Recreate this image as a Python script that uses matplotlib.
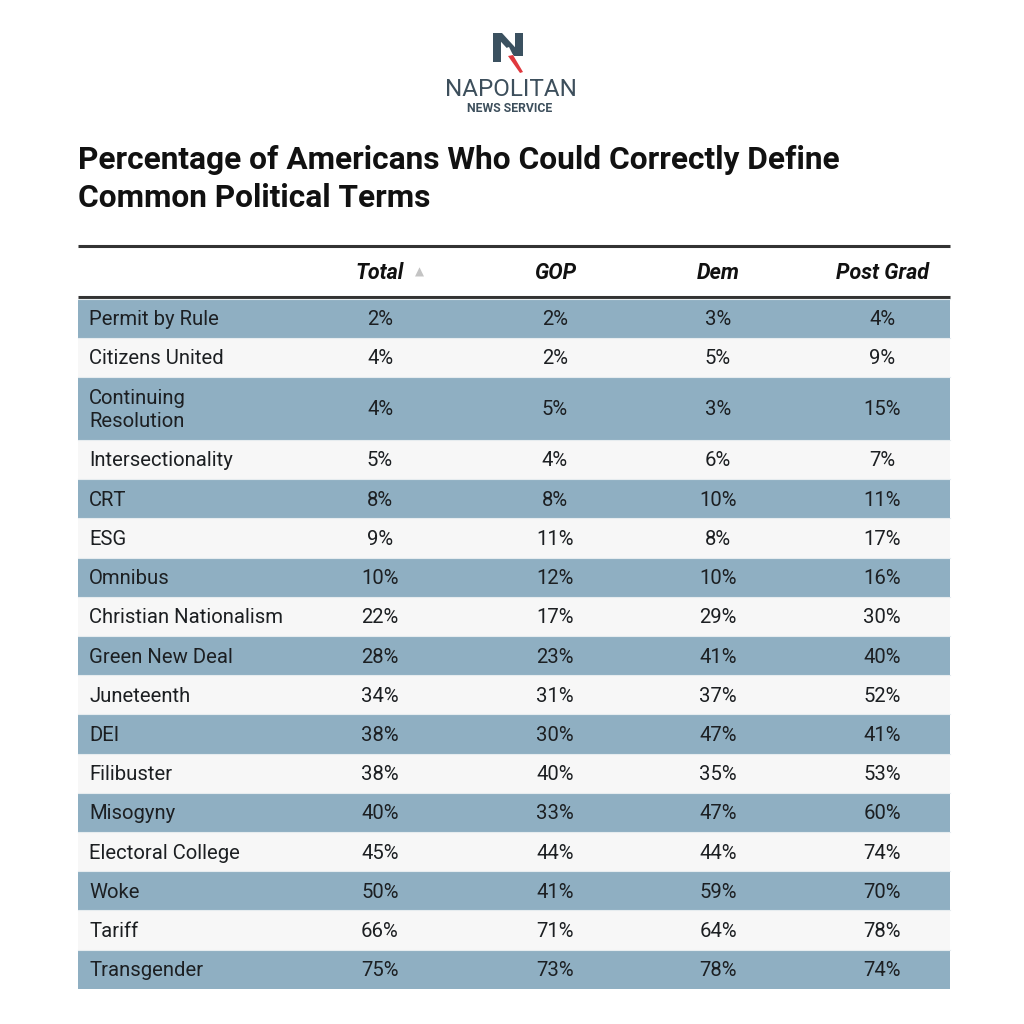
import matplotlib
matplotlib.use("Agg")
import matplotlib.pyplot as plt
from matplotlib.patches import Rectangle, Polygon

terms = ["Permit by Rule", "Citizens United", "Continuing\nResolution", "Intersectionality",
         "CRT", "ESG", "Omnibus", "Christian Nationalism", "Green New Deal", "Juneteenth",
         "DEI", "Filibuster", "Misogyny", "Electoral College", "Woke", "Tariff", "Transgender"]
total = [2, 4, 4, 5, 8, 9, 10, 22, 28, 34, 38, 38, 40, 45, 50, 66, 75]
gop = [2, 2, 5, 4, 8, 11, 12, 17, 23, 31, 30, 40, 33, 44, 41, 71, 73]
dem = [3, 5, 3, 6, 10, 8, 10, 29, 41, 37, 47, 35, 47, 44, 59, 64, 78]
postgrad = [4, 9, 15, 7, 11, 17, 16, 30, 40, 52, 41, 53, 60, 74, 70, 78, 74]
columns = ["Total", "GOP", "Dem", "Post Grad"]

title = "Percentage of Americans Who Could Correctly Define\nCommon Political Terms"

plt.rcParams['font.family'] = ['Roboto', 'DejaVu Sans']

fig = plt.figure(figsize=(10.24, 10.24), dpi=100)
ax = fig.add_axes([0, 0, 1, 1])
ax.set_xlim(0, 1024)
ax.set_ylim(1024, 0)
ax.axis("off")

BLUE = "#8fafc2"
LIGHT = "#f7f7f7"
TXT = "#1c1f22"

# Logo
slate = "#3b5160"
ax.add_patch(Polygon([(493, 33), (501, 33), (501, 62), (493, 62)], closed=True, color=slate, lw=0))
ax.add_patch(Polygon([(515, 33), (523, 33), (523, 56), (515, 56)], closed=True, color=slate, lw=0))
ax.add_patch(Polygon([(493, 33), (502, 33), (523, 56), (514, 56)], closed=True, color=slate, lw=0))
ax.add_patch(Polygon([(501, 50), (509, 47), (513, 55), (505, 58)], closed=True, color="white", lw=0))
ax.add_patch(Polygon([(508, 56), (513, 55), (523, 72), (520, 73)], closed=True, color="#e0383e", lw=0))
ax.text(511, 89.5, "NAPOLITAN", ha="center", va="center", fontsize=17.5, color="#3d4f5c",
        fontweight="normal")
ax.text(510, 108, "NEWS SERVICE", ha="center", va="center", fontsize=8.8, color="#3d4f5c",
        fontweight="bold")

# Title
ax.text(78, 179, title, ha="left", va="center", fontsize=22.8, fontweight="bold",
        color="#111111", linespacing=1.32)

# Table geometry
L, R = 78, 950
col_x = [380, 555, 718, 882]
ax.plot([L, R], [246, 246], color="#333333", lw=2.2, solid_capstyle="butt")
ax.plot([L, R], [297, 297], color="#333333", lw=2.2, solid_capstyle="butt")

for i, c in enumerate(columns):
    if c == "Total":
        ax.text(404, 273, c, ha="right", va="center", fontsize=15.5, fontweight="bold",
                fontstyle="italic", color="#111111")
        ax.text(419, 272, "▲", ha="center", va="center", fontsize=8.5, color="#c4c4c4",
                family=["DejaVu Sans"])
    else:
        ax.text(col_x[i], 273, c, ha="center", va="center", fontsize=15.5, fontweight="bold",
                fontstyle="italic", color="#111111")

y = 298.5
for r, term in enumerate(terms):
    h = 39.2 if "\n" not in term else 63
    color = BLUE if r % 2 == 0 else LIGHT
    ax.add_patch(Rectangle((L, y), R - L, h, facecolor=color, edgecolor="none"))
    ax.plot([L, R], [y, y], color="#e6ecef", lw=0.8)
    cy = y + h / 2 + 1.5
    ax.text(89, cy, term, ha="left", va="center", fontsize=14.6, color=TXT, linespacing=1.28)
    vals = [total[r], gop[r], dem[r], postgrad[r]]
    for x, v in zip(col_x, vals):
        ax.text(x, cy, f"{v}%", ha="center", va="center", fontsize=14.6, color=TXT)
    y += h

fig.savefig("out.png", dpi=100, facecolor="white")
